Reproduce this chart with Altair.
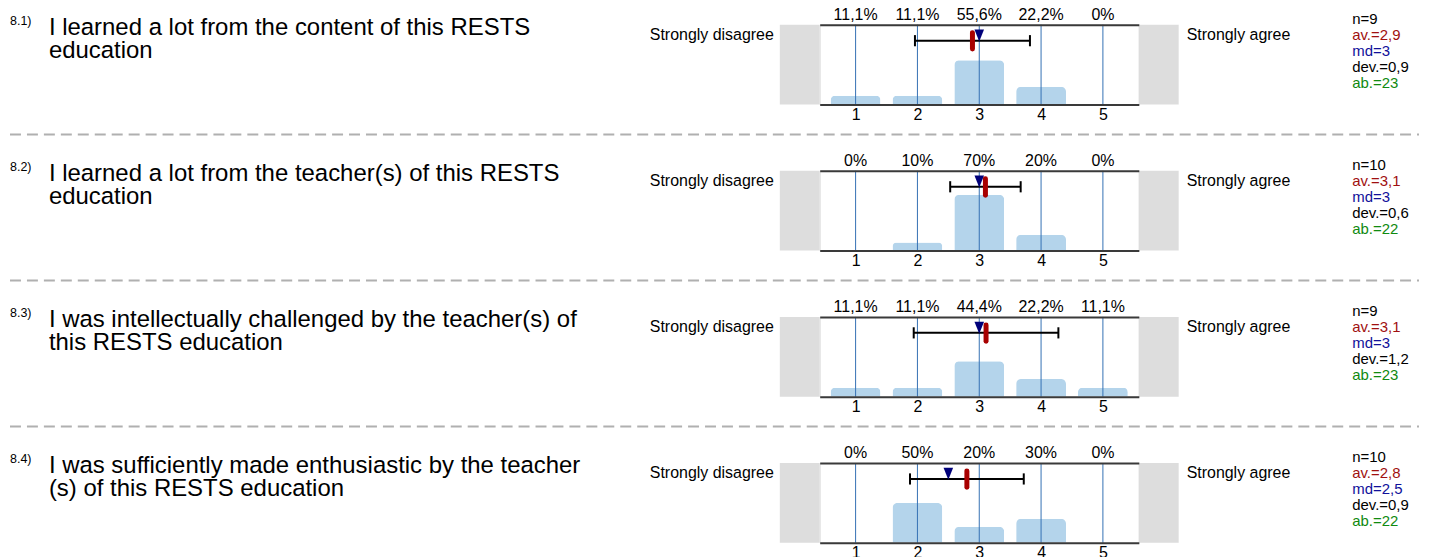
import altair as alt

FONT = "Liberation Sans"

# ---------------- data ----------------
numbers = ["8.1)", "8.2)", "8.3)", "8.4)"]
questions = [
    ["I learned a lot from the content of this RESTS", "education"],
    ["I learned a lot from the teacher(s) of this RESTS", "education"],
    ["I was intellectually challenged by the teacher(s) of", "this RESTS education"],
    ["I was sufficiently made enthusiastic by the teacher", "(s) of this RESTS education"],
]
categories = [1, 2, 3, 4, 5]
percents = [
    [11.1, 11.1, 55.6, 22.2, 0],
    [0, 10, 70, 20, 0],
    [11.1, 11.1, 44.4, 22.2, 11.1],
    [0, 50, 20, 30, 0],
]
n_values = [9, 10, 9, 10]
means = [2.89, 3.10, 3.11, 2.80]
medians = [3, 3, 3, 2.5]
devs = [0.93, 0.57, 1.17, 0.92]
abstentions = [23, 22, 23, 22]
mean_labels = ["2,9", "3,1", "3,1", "2,8"]
median_labels = ["3", "3", "3", "2,5"]
dev_labels = ["0,9", "0,6", "1,2", "0,9"]
left_label = "Strongly disagree"
right_label = "Strongly agree"

# ---------------- styles ----------------
GREY_BOX = "#dddddd"
BAR_BLUE = "#b4d4eb"
GRID_BLUE = "#3470b4"
FRAME = "#3a3a3a"
RED = "#a80000"
NAVY = "#00007a"
GREEN = "#108a10"
STAT_RED = "#a01010"
STAT_BLUE = "#10109a"
TRI = "M -0.8 -1 L 0.8 -1 L 0 1 Z"


def fmt_pct(p):
    return f"{p:g}".replace(".", ",") + "%"


xs = alt.Scale(domain=[0.5, 5.5], nice=False, zero=False)
ys = alt.Scale(domain=[0, 100], nice=False, zero=True)


def qx(field, axis=None):
    return alt.X(field, type="quantitative", scale=xs, axis=axis)


bottom_axis = alt.Axis(
    orient="bottom", values=categories, grid=False, ticks=False, tickSize=0,
    domain=True, domainColor=FRAME, domainWidth=2, labelFontSize=16,
    labelFont=FONT, labelColor="#000000", labelPadding=15,
    labelBaseline="alphabetic", labelFlush=False, title=None, zindex=1,
    format="d",
)
top_axis = alt.Axis(
    orient="top", values=categories, grid=False, ticks=False, tickSize=0,
    labels=False, domain=True, domainColor=FRAME, domainWidth=2, title=None,
    zindex=1,
)


def make_row(i, last):
    cat_data = alt.Data(values=[
        {"cat": c, "pct": p, "label": fmt_pct(p)}
        for c, p in zip(categories, percents[i])
    ])
    info_data = alt.Data(values=[{
        "num": numbers[i],
        "q": questions[i],
        "left": left_label,
        "right": right_label,
        "mean": means[i],
        "median": medians[i],
        "dev": devs[i],
        "s_n": f"n={n_values[i]}",
        "s_av": f"av.={mean_labels[i]}",
        "s_md": f"md={median_labels[i]}",
        "s_dev": f"dev.={dev_labels[i]}",
        "s_ab": f"ab.={abstentions[i]}",
    }])
    info = alt.Chart(info_data).transform_calculate(
        lo="datum.mean - datum.dev", hi="datum.mean + datum.dev"
    )
    cats = alt.Chart(cat_data)

    layers = [
        info.mark_rect(color=GREY_BOX).encode(
            x=alt.value(-40), x2=alt.value(0), y=alt.value(0), y2=alt.value(80)),
        info.mark_rect(color=GREY_BOX).encode(
            x=alt.value(320), x2=alt.value(360), y=alt.value(0), y2=alt.value(80)),
        cats.mark_bar(width=50, color=BAR_BLUE, cornerRadiusTopLeft=5,
                      cornerRadiusTopRight=5).encode(
            x=qx("cat", bottom_axis),
            y=alt.Y("pct", type="quantitative", scale=ys, axis=None)),
        cats.mark_rule(color=GRID_BLUE, strokeWidth=1).encode(
            x=qx("cat", top_axis),
            y=alt.YDatum(0, axis=None), y2=alt.Y2Datum(100)),
        info.mark_rule(color="#000000", strokeWidth=2).encode(
            x=qx("lo:Q"), x2=alt.X2("hi:Q"), y=alt.YDatum(80, axis=None)),
        info.mark_rule(color="#000000", strokeWidth=2).encode(
            x=qx("lo:Q"), y=alt.YDatum(87, axis=None), y2=alt.Y2Datum(73)),
        info.mark_rule(color="#000000", strokeWidth=2).encode(
            x=qx("hi:Q"), y=alt.YDatum(87, axis=None), y2=alt.Y2Datum(73)),
        info.mark_point(shape=TRI, filled=True, size=144, color=NAVY,
                        opacity=1, strokeWidth=0).encode(
            x=qx("median"), y=alt.YDatum(86.5, axis=None)),
        info.mark_rule(color=RED, strokeWidth=5, strokeCap="round").encode(
            x=qx("mean"), y=alt.YDatum(90, axis=None), y2=alt.Y2Datum(69.5)),
        cats.mark_text(fontSize=16, font=FONT, baseline="alphabetic",
                       color="#000000").encode(
            x=qx("cat"), y=alt.value(-5), text="label:N"),
        info.mark_text(fontSize=12.5, font=FONT, align="left",
                       baseline="alphabetic", color="#000000").encode(
            x=alt.value(-812), y=alt.value(0), text="num:N"),
        info.mark_text(fontSize=24, font=FONT, align="left", lineHeight=23,
                       baseline="alphabetic", color="#000000").encode(
            x=alt.value(-773), y=alt.value(10), text="q:N"),
        info.mark_text(fontSize=16, font=FONT, align="right",
                       baseline="alphabetic", color="#000000").encode(
            x=alt.value(-46), y=alt.value(15), text="left:N"),
        info.mark_text(fontSize=16, font=FONT, align="left",
                       baseline="alphabetic", color="#000000").encode(
            x=alt.value(368), y=alt.value(15), text="right:N"),
    ]
    stat_fields = [("s_n", "#000000"), ("s_av", STAT_RED), ("s_md", STAT_BLUE),
                   ("s_dev", "#000000"), ("s_ab", GREEN)]
    for k, (f, col) in enumerate(stat_fields):
        layers.append(
            info.mark_text(fontSize=15, font=FONT, align="left",
                           baseline="alphabetic", color=col).encode(
                x=alt.value(534), y=alt.value(-0.5 + 16 * k), text=f"{f}:N"))
    if not last:
        layers.append(
            info.mark_rule(color="#b0b0b0", strokeWidth=2,
                           strokeDash=[11, 6]).encode(
                x=alt.value(-812), x2=alt.value(601), y=alt.value(110)))
    return alt.layer(*layers).properties(width=320, height=80)


rows = [make_row(i, i == len(numbers) - 1) for i in range(len(numbers))]

chart = alt.vconcat(*rows, spacing=66.5, bounds="flush").properties(
    padding={"left": 0, "top": -3, "right": 0, "bottom": 0}
).configure_view(stroke=None).configure(font=FONT)

chart.save("out.html", embed_options={"renderer": "svg", "actions": False})
